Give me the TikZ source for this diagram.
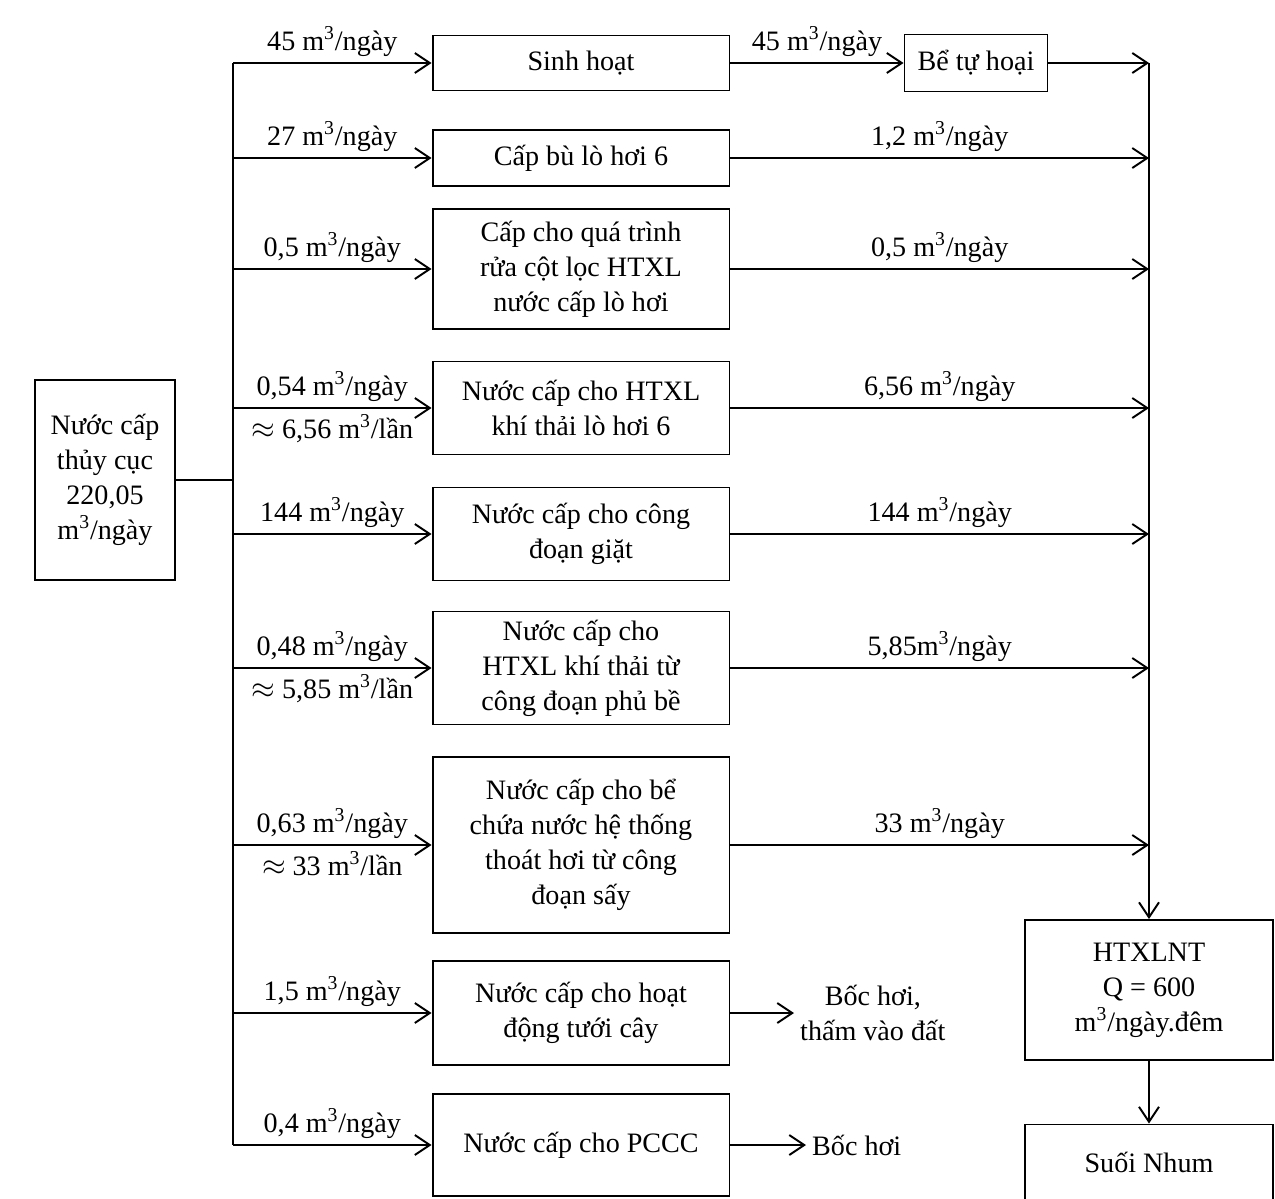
\documentclass[tikz,border=0pt]{standalone}
\usepackage{fontspec}
\setmainfont{Liberation Serif}
\usepackage{tikz}
\usetikzlibrary{arrows.meta, positioning}

\newcommand{\mcube}{m\textsuperscript{3}}

\begin{document}
\begin{tikzpicture}[
  x=0.02cm, y=-0.02cm,
  box/.style={draw, line width=1.1pt, minimum width=5.94cm, align=center, inner sep=2pt},
  arr/.style={-{Straight Barb[length=3mm, width=4mm]}, line width=1.1pt},
  line/.style={line width=1.1pt},
  every node/.style={font=\fontsize{16}{20}\selectfont}
]
  \path[use as bounding box, fill=white] (0,0) rectangle (1275,1198);

  % source and trunk
  \node[box, minimum width=2.8cm, minimum height=4cm] (src) at (105,480) {Nước cấp\\thủy cục\\220,05\\\mcube/ngày};
  \coordinate (trunkTop) at (233,63);
  \coordinate (trunkBot) at (233,1145);
  \draw[line] (src) -- (src -| trunkTop);
  \draw[line] (trunkTop) -- (trunkBot);

  % uses
  \node[box, minimum height=1.1cm] (living) at (581,63) {Sinh hoạt};
  \node[box, minimum height=1.12cm] (boiler) at (581,158) {Cấp bù lò hơi 6};
  \node[box, minimum height=2.4cm] (filter) at (581,269) {Cấp cho quá trình\\rửa cột lọc HTXL\\nước cấp lò hơi};
  \node[box, minimum height=1.86cm] (gasBoiler) at (581,408) {Nước cấp cho HTXL\\khí thải lò hơi 6};
  \node[box, minimum height=1.86cm] (washing) at (581,534) {Nước cấp cho công\\đoạn giặt};
  \node[box, minimum height=2.26cm] (gasCoat) at (581,668) {Nước cấp cho\\HTXL khí thải từ\\công đoạn phủ bề};
  \node[box, minimum height=3.52cm] (dryer) at (581,845) {Nước cấp cho bể\\chứa nước hệ thống\\thoát hơi từ công\\đoạn sấy};
  \node[box, minimum height=2.08cm] (garden) at (581,1013) {Nước cấp cho hoạt\\động tưới cây};
  \node[box, minimum height=2.04cm] (fire) at (581,1145) {Nước cấp cho PCCC};

  % supply lines
  \draw[arr] (trunkTop) -- node[above] {45 \mcube/ngày} (living);
  \draw[arr] (trunkTop |- boiler) -- node[above] {27 \mcube/ngày} (boiler);
  \draw[arr] (trunkTop |- filter) -- node[above] {0,5 \mcube/ngày} (filter);
  \draw[arr] (trunkTop |- gasBoiler) -- node[above] {0,54 \mcube/ngày} node[below] {$\approx$ 6,56 \mcube/lần} (gasBoiler);
  \draw[arr] (trunkTop |- washing) -- node[above] {144 \mcube/ngày} (washing);
  \draw[arr] (trunkTop |- gasCoat) -- node[above] {0,48 \mcube/ngày} node[below] {$\approx$ 5,85 \mcube/lần} (gasCoat);
  \draw[arr] (trunkTop |- dryer) -- node[above] {0,63 \mcube/ngày} node[below] {$\approx$ 33 \mcube/lần} (dryer);
  \draw[arr] (trunkTop |- garden) -- node[above] {1,5 \mcube/ngày} (garden);
  \draw[arr] (trunkBot) -- node[above] {0,4 \mcube/ngày} (fire);

  % outlets
  \node[box, minimum width=2.86cm, minimum height=1.14cm] (septic) at (976,63) {Bể tự hoại};
  \node[box, minimum width=4.96cm, minimum height=2.8cm] (treat) at (1149,990) {HTXLNT\\Q = 600\\\mcube/ngày.đêm};
  \node[box, minimum width=4.96cm, minimum height=1.5cm] (stream) at (1149,1162) {Suối Nhum};
  \node[anchor=west, align=center] (evapSoil) at (794,1013) {Bốc hơi,\\thấm vào đất};
  \node[anchor=west] (evap) at (806,1145) {Bốc hơi};
  \coordinate (coll) at (1149,63);

  \draw[arr] (living) -- node[above] {45 \mcube/ngày} (septic);
  \draw[arr] (septic) -- (septic -| coll);
  \draw[arr] (boiler) -- node[above] {1,2 \mcube/ngày} (boiler -| coll);
  \draw[arr] (filter) -- node[above] {0,5 \mcube/ngày} (filter -| coll);
  \draw[arr] (gasBoiler) -- node[above] {6,56 \mcube/ngày} (gasBoiler -| coll);
  \draw[arr] (washing) -- node[above] {144 \mcube/ngày} (washing -| coll);
  \draw[arr] (gasCoat) -- node[above] {5,85\mcube/ngày} (gasCoat -| coll);
  \draw[arr] (dryer) -- node[above] {33 \mcube/ngày} (dryer -| coll);
  \draw[arr] (coll) -- (treat);
  \draw[arr] (treat) -- (stream);
  \draw[arr] (garden) -- (evapSoil);
  \draw[arr] (fire) -- (evap);
\end{tikzpicture}
\end{document}
